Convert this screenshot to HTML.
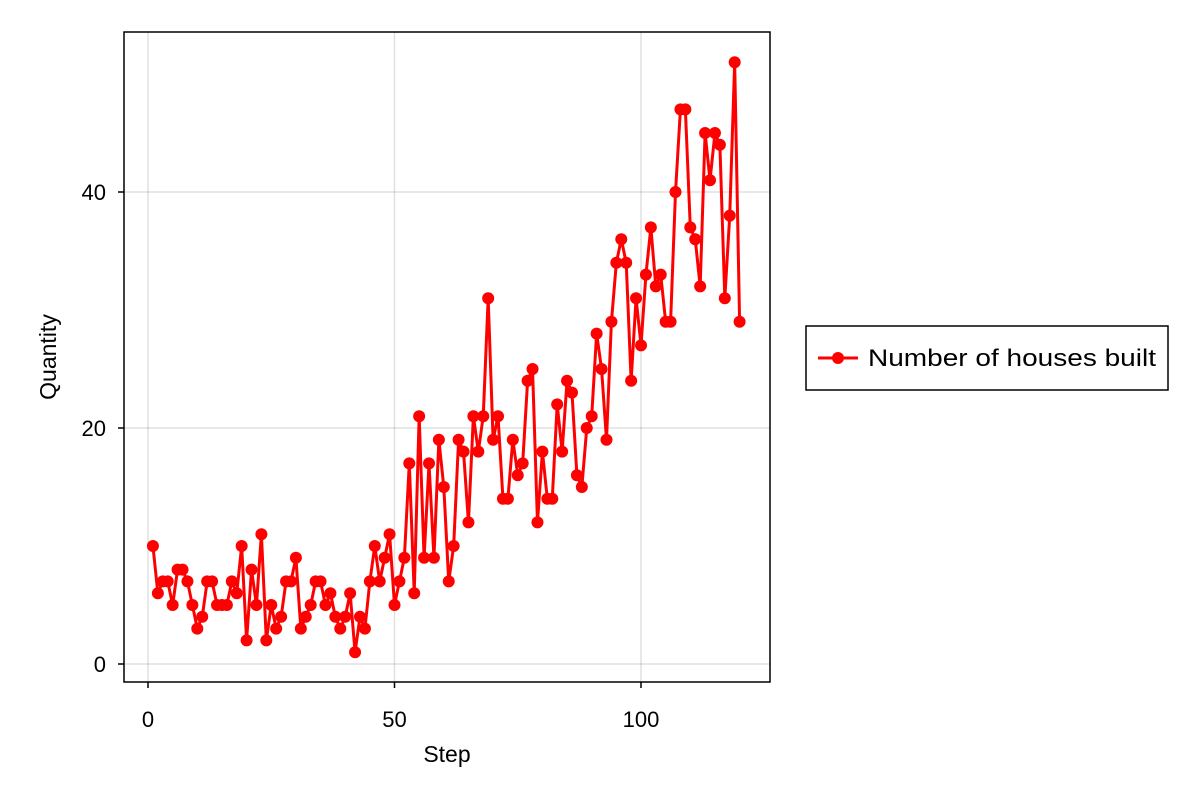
<!DOCTYPE html>
<html><head><meta charset="utf-8"><style>body{margin:0;background:#fff}svg{display:block;font-family:"Liberation Sans",sans-serif}</style></head>
<body>
<svg id="chart" width="1200" height="800" xmlns="http://www.w3.org/2000/svg"></svg>
<script>
const steps = Array.from({length:120},(_,i)=>i+1);
const houses = [10,6,7,7,5,8,8,7,5,3,4,7,7,5,5,5,7,6,10,2,8,5,11,2,5,3,4,7,7,9,3,4,5,7,7,5,6,4,3,4,6,1,4,3,7,10,7,9,11,5,7,9,17,6,21,9,17,9,19,15,7,10,19,18,12,21,18,21,31,19,21,14,14,19,16,17,24,25,12,18,14,14,22,18,24,23,16,15,20,21,28,25,19,29,34,36,34,24,31,27,33,37,32,33,29,29,40,47,47,37,36,32,45,41,45,44,31,38,51,29];
const xTicks = [0,50,100];
const yTicks = [0,20,40];
const NS="http://www.w3.org/2000/svg";
const svg=document.getElementById('chart');
const L=124,T=32,R=770,B=682;
const x=v=>148+v*(641-148)/100;
const y=v=>664-v*(664-192)/40;
function mk(t,a,p){const e=document.createElementNS(NS,t);for(const k in a)e.setAttribute(k,a[k]);(p||svg).appendChild(e);return e;}
const grid=mk('g',{});


xTicks.forEach(v=>{mk('line',{x1:x(v),x2:x(v),y1:T,y2:B,stroke:'#000','stroke-opacity':0.12,'stroke-width':1.5},grid);
 const t=mk('text',{x:x(v),y:727,'text-anchor':'middle','font-size':22});t.textContent=v;
 
 
 mk('line',{x1:x(v),x2:x(v),y1:B,y2:B+6,stroke:'#000','stroke-width':1.5});});
yTicks.forEach(v=>{mk('line',{x1:L,x2:R,y1:y(v),y2:y(v),stroke:'#000','stroke-opacity':0.12,'stroke-width':1.5},grid);
 const t=mk('text',{x:106,y:y(v)+8,'text-anchor':'end','font-size':22});t.textContent=v;
 
 
 mk('line',{x1:L-6,x2:L,y1:y(v),y2:y(v),stroke:'#000','stroke-width':1.5});});
const frame=mk('rect',{x:L,y:T,width:R-L,height:B-T,fill:'none',stroke:'#000','stroke-width':1.5});


const line=mk('polyline',{points:steps.map((s,i)=>x(s)+','+y(houses[i])).join(' '),fill:'none',stroke:'#f00','stroke-width':3,'stroke-linejoin':'round'});


steps.forEach((s,i)=>{const c=mk('circle',{cx:x(s),cy:y(houses[i]),r:6,fill:'#f00'});
 
 });
const xt=mk('text',{x:447,y:762,'text-anchor':'middle','font-size':23});xt.textContent='Step';


const yt=mk('text',{x:0,y:0,'text-anchor':'middle','font-size':23,transform:'translate(56,357) rotate(-90)'});yt.textContent='Quantity';


const lg=mk('g',{});


mk('rect',{x:806,y:326,width:362,height:64,fill:'#fff',stroke:'#000','stroke-width':1.5},lg);
mk('line',{x1:818,x2:858,y1:358,y2:358,stroke:'#f00','stroke-width':3},lg);
mk('circle',{cx:838,cy:358,r:6,fill:'#f00'},lg);
const lt=mk('text',{x:868,y:366,'font-size':24.5,textLength:288,lengthAdjust:'spacingAndGlyphs'},lg);lt.textContent='Number of houses built';


</script>
</body></html>
